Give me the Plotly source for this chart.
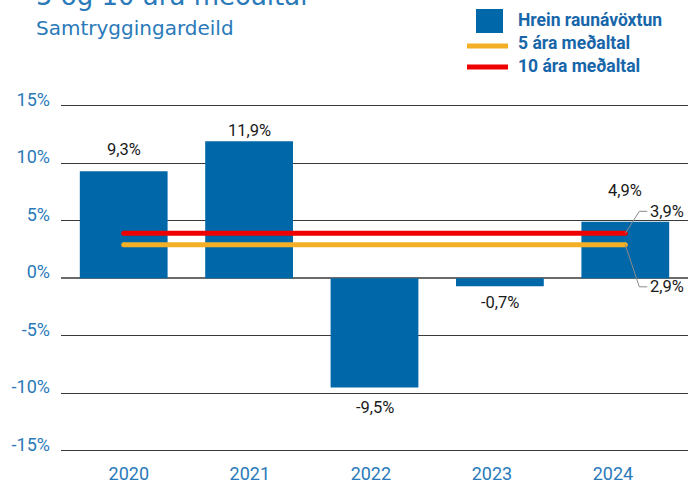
import plotly.graph_objects as go

# ---- data ----
YEARS = ["2020", "2021", "2022", "2023", "2024"]
RETURN = [9.3, 11.9, -9.5, -0.7, 4.9]
AVG5 = 2.9
AVG10 = 3.9
Y_TICKS = [-15, -10, -5, 0, 5, 10, 15]
Y_TICK_TEXT = ["-15%", "-10%", "-5%", "0%", "5%", "10%", "15%"]
TITLE = "5 og 10 ára meðaltal"
SUBTITLE = "Samtryggingardeild"
LEGEND_NAMES = ["Hrein raunávöxtun", "5 ára meðaltal", "10 ára meðaltal"]

# ---- style ----
W, H = 697, 483
ML, MR, MT, MB = 61, 9, 102, 29
PW, PH = W - ML - MR, H - MT - MB
BAR_C = "#0067a9"
RED = "#ee0000"
YEL = "#f3b026"
BLUE_TXT = "#2a7ab9"
LEG_TXT = "#1766aa"
FONT = "Roboto"
TFONT = "DejaVu Sans"
LABEL_SHIFT = [22, 10.5, -20, -16, 31.5]


def fx(p):
    return (p - ML) / PW


def fy(p):
    return (H - MB - p) / PH


def fmt(v):
    return f"{v:.1f}".replace(".", ",") + "%"


idx = list(range(len(YEARS)))
fig = go.Figure()
fig.add_trace(go.Bar(x=idx, y=RETURN, marker=dict(color=BAR_C, line=dict(width=0)),
                     width=0.7, showlegend=False, hoverinfo="skip"))
fig.add_trace(go.Scatter(x=[idx[0], idx[-1]], y=[AVG5, AVG5], mode="lines+markers",
                         line=dict(color=YEL, width=5), marker=dict(color=YEL, size=5),
                         showlegend=False, hoverinfo="skip"))
fig.add_trace(go.Scatter(x=[idx[0], idx[-1]], y=[AVG10, AVG10], mode="lines+markers",
                         line=dict(color=RED, width=5), marker=dict(color=RED, size=5),
                         showlegend=False, hoverinfo="skip"))
# dummy trace for the category label axis
fig.add_trace(go.Scatter(x=idx, y=[0] * len(idx), xaxis="x2", mode="markers",
                         marker=dict(opacity=0), showlegend=False, hoverinfo="skip"))

annotations = []
for i, v in enumerate(RETURN):
    annotations.append(dict(x=i, y=v, xref="x", yref="y", text=fmt(v), showarrow=False,
                            yshift=LABEL_SHIFT[i], yanchor="middle",
                            font=dict(family=FONT, size=16.5, color="#1a1a1a")))

shapes = []
last = idx[-1]
# callouts for averages
for val, dy in [(AVG10, 22), (AVG5, -42)]:
    shapes.append(dict(type="line", xref="x", yref="y", xsizemode="pixel", ysizemode="pixel",
                       xanchor=last, yanchor=val, x0=0, y0=0, x1=14, y1=dy,
                       line=dict(color="#8a8a8a", width=1)))
    shapes.append(dict(type="line", xref="x", yref="y", xsizemode="pixel", ysizemode="pixel",
                       xanchor=last, yanchor=val, x0=14, y0=dy, x1=22, y1=dy,
                       line=dict(color="#8a8a8a", width=1)))
    annotations.append(dict(x=last, y=val, xref="x", yref="y", text=fmt(val), showarrow=False,
                            xshift=23, yshift=dy, xanchor="left", yanchor="middle",
                            font=dict(family=FONT, size=16.5, color="#1a1a1a")))

# custom legend
shapes.append(dict(type="rect", xref="paper", yref="paper", x0=fx(476), x1=fx(503),
                   y0=fy(33), y1=fy(9), fillcolor=BAR_C, line=dict(width=0)))
shapes.append(dict(type="line", xref="paper", yref="paper", x0=fx(467), x1=fx(508),
                   y0=fy(46), y1=fy(46), line=dict(color=YEL, width=5)))
shapes.append(dict(type="line", xref="paper", yref="paper", x0=fx(467), x1=fx(508),
                   y0=fy(67), y1=fy(67), line=dict(color=RED, width=5)))
for name, yy in zip(LEGEND_NAMES, [20, 43, 66]):
    annotations.append(dict(x=fx(516), y=fy(yy), xref="paper", yref="paper", text=f"<b>{name}</b>",
                            showarrow=False, xanchor="left", yanchor="middle",
                            font=dict(family=FONT, size=17.5, color=LEG_TXT)))

# title & subtitle
annotations.append(dict(x=fx(34), y=fy(13), xref="paper", yref="paper", text=TITLE,
                        showarrow=False, xanchor="left", yanchor="bottom",
                        font=dict(family=TFONT, size=26, color=BLUE_TXT)))
annotations.append(dict(x=fx(34), y=fy(28), xref="paper", yref="paper", text=SUBTITLE,
                        showarrow=False, xanchor="left", yanchor="middle",
                        font=dict(family=TFONT, size=20, color=BLUE_TXT)))

fig.update_layout(
    width=W, height=H,
    margin=dict(l=ML, r=MR, t=MT, b=MB, pad=0, autoexpand=False),
    paper_bgcolor="white", plot_bgcolor="white",
    showlegend=False,
    bargap=0.3,
    xaxis=dict(range=[-0.5, 4.5], showticklabels=False, showgrid=False, zeroline=False,
               showline=False, fixedrange=True, automargin=False),
    xaxis2=dict(overlaying="x", anchor="y", side="bottom", range=[-0.56, 4.62],
                tickmode="array", tickvals=idx, ticktext=YEARS, showgrid=False,
                zeroline=False, showline=False, ticks="", ticklabelstandoff=7,
                automargin=False,
                tickfont=dict(family=FONT, size=18, color=BLUE_TXT)),
    yaxis=dict(range=[-15.29, 15.32], tickmode="array", tickvals=Y_TICKS, ticktext=Y_TICK_TEXT,
               showgrid=True, gridcolor="#3a3a3a", gridwidth=1, zeroline=True,
               zerolinecolor="#6a6a6a", zerolinewidth=1.5, showline=False, ticks="",
               ticklabelstandoff=10, ticklabelshift=-6, automargin=False,
               tickfont=dict(family=FONT, size=18, color=BLUE_TXT)),
    annotations=annotations,
    shapes=shapes,
)

fig.write_html("out.html", config={"displayModeBar": False},
               post_script="document.body.style.margin='0px';document.body.style.overflow='hidden';")
